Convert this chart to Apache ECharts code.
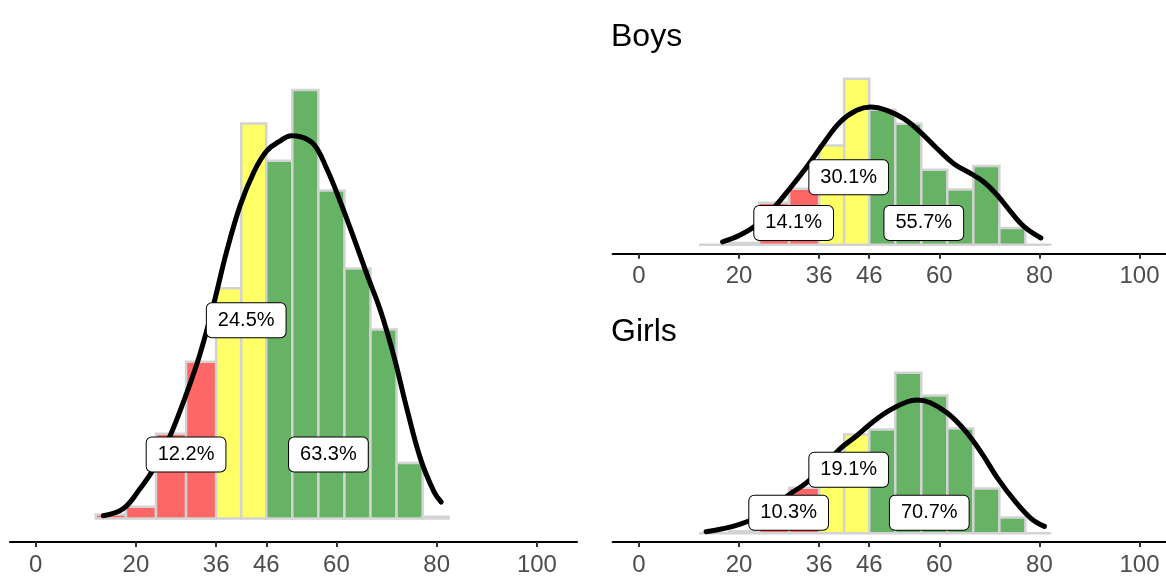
<!DOCTYPE html>
<html><head><meta charset="utf-8">
<script src="https://cdn.jsdelivr.net/npm/echarts@6/dist/echarts.min.js"></script>
<style>html,body{margin:0;padding:0;background:#fff}#c{width:1166px;height:577px}</style>
</head><body><div id="c"></div>
<script>
// ---- data ----
const binEdges = [12, 18, 24, 30, 36, 41, 46, 51.2, 56.4, 61.6, 66.8, 72, 77.2, 82.4];
const cutoffs = [36, 46];
const tickValues = [0, 20, 36, 46, 60, 80, 100];

const allDensity   = [0.00030, 0.00089, 0.00650, 0.01201, 0.01765, 0.03029, 0.02743, 0.03287, 0.02516, 0.01917, 0.01449, 0.00425, 0.00013];
const boysDensity  = [0, 0.00038, 0.00948, 0.01264, 0.02242, 0.03748, 0.03048, 0.02732, 0.01693, 0.01248, 0.01777, 0.00377, 0];
const girlsDensity = [0, 0.00047, 0.00583, 0.01088, 0.01450, 0.02370, 0.02487, 0.03852, 0.03302, 0.02510, 0.01072, 0.00373, 0];

const allCurveX = [13.5, 17.5, 20.8, 23.5, 26.8, 30.1, 32.8, 35.5, 38.1, 40.8, 43.5, 46.1, 48.8, 51.0, 52.8, 55.5, 58.1, 60.8, 63.5, 66.1, 68.8, 71.5, 74.1, 76.8, 79.5, 80.9];
const allCurveY = [0.00020, 0.00076, 0.00228, 0.00379, 0.00632, 0.00960, 0.01264, 0.01643, 0.02048, 0.02401, 0.02655, 0.02819, 0.02897, 0.02935, 0.02928, 0.02869, 0.02680, 0.02427, 0.02149, 0.01870, 0.01593, 0.01239, 0.00834, 0.00455, 0.00202, 0.00126];

const boysCurveX = [16.7, 20.1, 23.4, 26.8, 30.1, 33.5, 36.8, 40.2, 43.5, 46.2, 49.5, 52.9, 56.2, 59.6, 62.9, 66.3, 68.9, 71.6, 74.3, 77.0, 80.3];
const boysCurveY = [0.00061, 0.00212, 0.00438, 0.00813, 0.01264, 0.01754, 0.02280, 0.02770, 0.03034, 0.03109, 0.03034, 0.02845, 0.02544, 0.02167, 0.01829, 0.01603, 0.01416, 0.01115, 0.00738, 0.00400, 0.00151];

const girlsCurveX = [13.4, 16.7, 20.1, 23.4, 26.8, 30.1, 33.5, 36.8, 40.2, 43.5, 46.9, 50.2, 53.6, 55.6, 58.2, 61.6, 64.9, 68.3, 71.6, 75.0, 78.3, 81.0];
const girlsCurveY = [0.00035, 0.00105, 0.00210, 0.00373, 0.00606, 0.00932, 0.01212, 0.01585, 0.02028, 0.02337, 0.02687, 0.02960, 0.03153, 0.03193, 0.03130, 0.02883, 0.02494, 0.01951, 0.01328, 0.00785, 0.00357, 0.00163];

const allPct   = ['12.2%', '24.5%', '63.3%'];
const boysPct  = ['14.1%', '30.1%', '55.7%'];
const girlsPct = ['10.3%', '19.1%', '70.7%'];
const allLabelX   = [30.0, 42.0, 58.4];
const boysLabelX  = [30.9, 41.9, 56.9];
const girlsLabelX = [29.9, 41.9, 58.0];
const labelY = [0.0049, 0.0152, 0.0049];

const panelTitles = ['', 'Boys', 'Girls'];

// ---- style ----
const FONT = '"Liberation Sans", Arial, Helvetica, sans-serif';
const RED = '#FF6666', YELLOW = '#FFFF66', GREEN = '#66B366';

const panels = [
  {dens: allDensity, cx: allCurveX, cy: allCurveY, pct: allPct, lx: allLabelX,
   grid: {left: 10, width: 567, top: 68.5, height: 478.8}, xmin: -5.13, xmax: 108.0},
  {dens: boysDensity, cx: boysCurveX, cy: boysCurveY, pct: boysPct, lx: boysLabelX,
   grid: {left: 612.7, width: 553.3, top: 70.4, height: 183.4}, xmin: -5.26, xmax: 105.3},
  {dens: girlsDensity, cx: girlsCurveX, cy: girlsCurveY, pct: girlsPct, lx: girlsLabelX,
   grid: {left: 612.7, width: 553.3, top: 364.6, height: 182.7}, xmin: -5.26, xmax: 105.3}
];

const grids = [], xAxes = [], yAxes = [], series = [];
panels.forEach((p, i) => {
  grids.push(Object.assign({containLabel: false}, p.grid));
  xAxes.push({
    type: 'value', gridIndex: i, min: p.xmin, max: p.xmax,
    axisLine: {show: true, onZero: false, lineStyle: {color: '#000', width: 2.2}},
    axisTick: {show: true, customValues: tickValues, length: 5, lineStyle: {color: '#333', width: 2}},
    axisLabel: {show: true, customValues: tickValues, fontSize: 24, color: '#4D4D4D', margin: 11, fontFamily: FONT},
    splitLine: {show: false}
  });
  const M = Math.max.apply(null, p.dens);
  yAxes.push({type: 'value', gridIndex: i, min: -0.055 * M, max: 1.05 * M, show: false, splitLine: {show: false}});

  series.push({
    type: 'custom', xAxisIndex: i, yAxisIndex: i, silent: true, z: 1,
    data: p.dens.map((d, k) => [binEdges[k], binEdges[k + 1], d]),
    encode: {x: [0, 1], y: 2},
    renderItem: function (params, api) {
      const x0 = api.value(0), x1 = api.value(1), h = api.value(2);
      const a = api.coord([x0, 0]), b = api.coord([x1, h]);
      const fill = x0 < cutoffs[0] ? RED : (x0 < cutoffs[1] ? YELLOW : GREEN);
      return {type: 'rect', shape: {x: a[0], y: b[1], width: b[0] - a[0], height: a[1] - b[1]},
              style: {fill: fill, stroke: '#D3D3D3', lineWidth: 2.5}};
    }
  });
  series.push({
    type: 'line', xAxisIndex: i, yAxisIndex: i, silent: true, z: 3,
    data: p.cx.map((x, k) => [x, p.cy[k]]),
    smooth: 0.4, symbol: 'none', showSymbol: false,
    lineStyle: {color: '#000', width: 5, cap: 'round', join: 'round'}
  });
  series.push({
    type: 'scatter', xAxisIndex: i, yAxisIndex: i, silent: true, z: 5, symbolSize: 0,
    itemStyle: {opacity: 1},
    data: p.pct.map((t, k) => ({name: t, value: [p.lx[k], labelY[k]]})),
    label: {show: true, position: 'inside', formatter: q => q.name, fontSize: 20, color: '#000',
            opacity: 1, fontFamily: FONT, backgroundColor: '#fff', borderColor: '#000', borderWidth: 1,
            borderRadius: 5, padding: [7, 11]}
  });
});

const chart = echarts.init(document.getElementById('c'), null, {renderer: 'canvas'});
chart.setOption({
  animation: false,
  backgroundColor: '#fff',
  title: [
    {text: panelTitles[1], left: 611, top: 21, padding: 0, textStyle: {fontSize: 32, fontWeight: 'normal', color: '#000', fontFamily: FONT}},
    {text: panelTitles[2], left: 611, top: 316, padding: 0, textStyle: {fontSize: 32, fontWeight: 'normal', color: '#000', fontFamily: FONT}}
  ],
  grid: grids, xAxis: xAxes, yAxis: yAxes, series: series
});
</script></body></html>
